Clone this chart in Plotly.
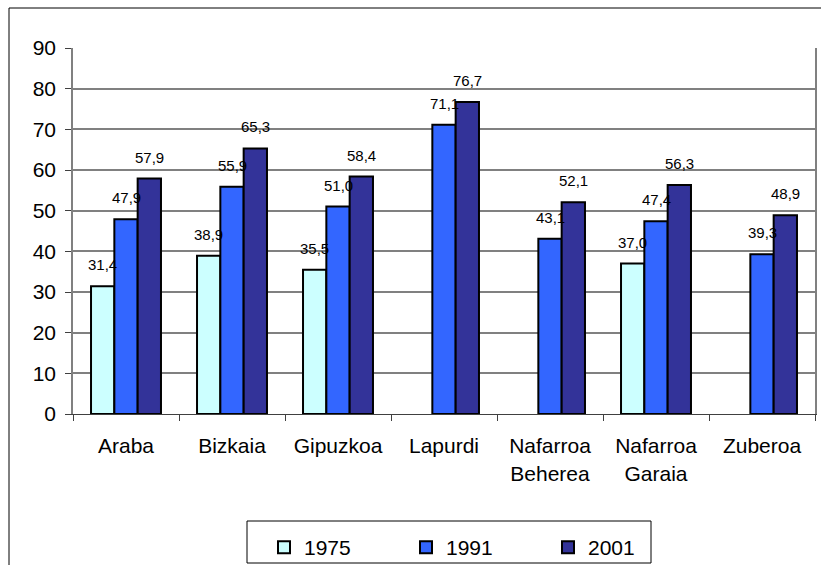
import plotly.graph_objects as go

categories = ["Araba", "Bizkaia", "Gipuzkoa", "Lapurdi", "Nafarroa<br>Beherea", "Nafarroa<br>Garaia", "Zuberoa"]
series_names = ["1975", "1991", "2001"]
v1975 = [31.4, 38.9, 35.5, None, None, 37.0, None]
v1991 = [47.9, 55.9, 51.0, 71.1, 43.1, 47.4, 39.3]
v2001 = [57.9, 65.3, 58.4, 76.7, 52.1, 56.3, 48.9]
colors = ["#CCFFFF", "#3366FF", "#333399"]
y_ticks = [0, 10, 20, 30, 40, 50, 60, 70, 80, 90]

W, H = 821, 565
L, R, T, B = 73, 6, 48, 151
plot_w = W - L - R
plot_h = H - T - B
bargap = 0.34
bar_px = plot_w / len(categories) * (1 - bargap) / 3

def px_x(px):
    return (px - L) / plot_w

def px_y(py):
    return (H - B - py) / plot_h

fig = go.Figure()
all_series = [v1975, v1991, v2001]
for name, vals, col in zip(series_names, all_series, colors):
    fig.add_trace(go.Bar(
        x=categories, y=vals, name=name,
        marker=dict(color=col, line=dict(color="black", width=2)),
    ))

annotations = []
for j, vals in enumerate(all_series):
    for cat, v in zip(categories, vals):
        if v is None:
            continue
        annotations.append(dict(
            x=cat, y=v, xref="x", yref="y",
            text=f"{v:.1f}".replace(".", ","),
            showarrow=False, yanchor="bottom", xanchor="center",
            xshift=(j - 1) * bar_px, yshift=11,
            font=dict(family="Liberation Sans, Arial", size=15, color="black"),
        ))

fig.update_layout(
    width=W, height=H,
    margin=dict(l=L, r=R, t=T, b=B, autoexpand=False),
    paper_bgcolor="white", plot_bgcolor="white",
    barmode="group", bargap=bargap, bargroupgap=0,
    font=dict(family="Liberation Sans, Arial", size=21, color="black"),
    showlegend=True,
    legend=dict(
        orientation="h", x=px_x(264), xanchor="left", y=px_y(527), yanchor="top",
        borderwidth=0, bgcolor="rgba(0,0,0,0)",
        font=dict(size=21), entrywidth=97, entrywidthmode="pixels",
        traceorder="normal",
    ),
    annotations=annotations,
    shapes=[
        dict(type="rect", xref="paper", yref="paper",
             x0=px_x(9), x1=px_x(830), y0=px_y(575), y1=px_y(8),
             line=dict(color="black", width=1), fillcolor="rgba(0,0,0,0)",
             layer="below"),
        dict(type="rect", xref="paper", yref="paper",
             x0=px_x(247), x1=px_x(651), y0=px_y(563), y1=px_y(521),
             line=dict(color="black", width=1), fillcolor="white",
             layer="below"),
    ],
)
fig.update_xaxes(
    showline=True, linecolor="#404040", linewidth=1,
    ticks="outside", tickson="boundaries", ticklen=6, tickcolor="#404040",
    ticklabelstandoff=13, showgrid=False,
)
fig.update_yaxes(
    range=[0, 90], tickvals=y_ticks,
    showline=True, linecolor="#808080", linewidth=1.5, mirror=True,
    ticks="outside", ticklen=6, tickcolor="#404040",
    showgrid=True, gridcolor="#808080", gridwidth=1.5,
    ticklabelstandoff=5, zeroline=False,
)
fig.write_html("out.html", config={"displayModeBar": False},
               post_script="document.body.style.margin='0';document.body.style.overflow='hidden';")
